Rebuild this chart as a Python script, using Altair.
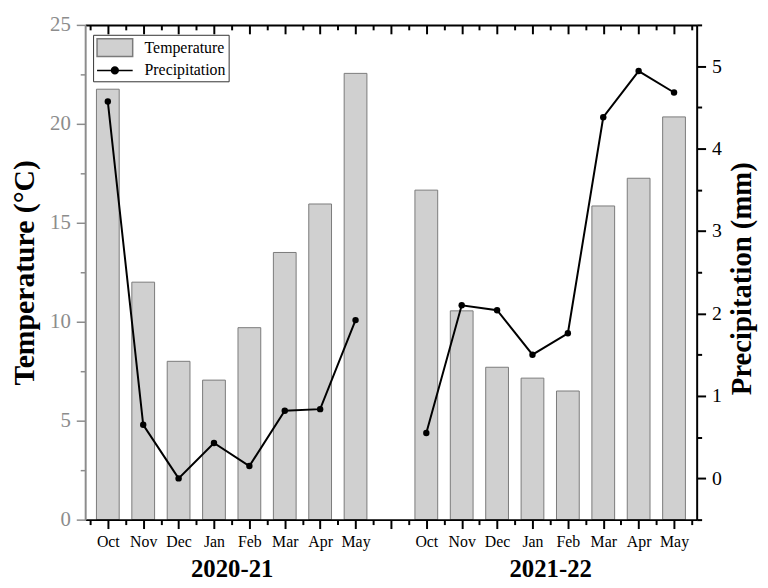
import json
import altair as alt
import pandas as pd

# ---------------- data ----------------
MONTHS = ["Oct", "Nov", "Dec", "Jan", "Feb", "Mar", "Apr", "May"]
SEASONS = ["2020-21", "2021-22"]
TEMP_2020_21 = [21.75, 12.0, 8.0, 7.05, 9.7, 13.5, 15.95, 22.55]
TEMP_2021_22 = [16.65, 10.55, 7.7, 7.15, 6.5, 15.85, 17.25, 20.35]
PRECIP_2020_21 = [4.57, 0.65, 0.0, 0.43, 0.15, 0.82, 0.84, 1.92]
PRECIP_2021_22 = [0.55, 2.10, 2.04, 1.50, 1.76, 4.38, 4.94, 4.68]
SERIES = ["Temperature", "Precipitation"]
TEMP_TICKS = [0, 5, 10, 15, 20, 25]
PRECIP_TICKS = [0, 1, 2, 3, 4, 5]

FONT = "Liberation Serif"
BAR_FILL = "#d0d0d0"
BAR_STROKE = "#7a7a7a"
GRAY = "#8c8c8c"
W, H = 618, 500

rows = []
for s, (temps, precs) in enumerate(zip([TEMP_2020_21, TEMP_2021_22],
                                       [PRECIP_2020_21, PRECIP_2021_22])):
    for m, month in enumerate(MONTHS):
        rows.append({"season": SEASONS[s], "month": month,
                     "pos": s * (len(MONTHS) + 1) + m + 1,
                     "temp": temps[m], "precip": precs[m]})
df = pd.DataFrame(rows)

n_slots = 2 * len(MONTHS) + 1
XDOM = [0.5, n_slots + 0.5]
major_x = list(range(1, n_slots + 1))
minor_x = [0.5 + i for i in range(n_slots + 1)]
slot_labels = MONTHS + [""] + MONTHS
season_centers = df.groupby("season")["pos"].mean().tolist()

month_expr = f"{json.dumps(slot_labels)}[datum.value - 1]"
season_expr = f"datum.value < {len(MONTHS) + 1} ? '{SEASONS[0]}' : '{SEASONS[1]}'"


def xenc(axis):
    return alt.X("pos:Q", scale=alt.Scale(domain=XDOM, nice=False, zero=False), axis=axis)


temp_scale = alt.Scale(domain=[0, 25], nice=False, zero=False)
prec_scale = alt.Scale(domain=[-0.5, 5.5], nice=False, zero=False)

# ---- bars with bottom major axis + left major axis ----
bars = alt.Chart(df).mark_bar(size=23, fill=BAR_FILL, stroke=BAR_STROKE, strokeWidth=1).encode(
    x=xenc(alt.Axis(orient="bottom", values=major_x, labelExpr=month_expr, title=None, grid=False,
                    domainColor="black", domainWidth=2, tickColor="black", tickWidth=2, tickSize=9,
                    labelFont=FONT, labelFontSize=16, labelColor="black", labelPadding=5,
                    labelAngle=0, labelOverlap=False, labelFlush=False, labelBound=False, zindex=1)),
    y=alt.Y("temp:Q", scale=temp_scale,
            axis=alt.Axis(orient="left", values=TEMP_TICKS, grid=False, domainColor=GRAY, domainWidth=2,
                          tickColor=GRAY, tickWidth=1.5, tickSize=9, labelColor=GRAY, labelFont=FONT,
                          labelFontSize=21, labelPadding=6, labelOverlap=False, labelFlush=False,
                          title="Temperature (°C)", titleFont=FONT, titleFontSize=30,
                          titleFontWeight="bold", titleColor="black", titleAngle=270,
                          titleX=-61, titleY=250, titleAlign="center", titleBaseline="middle",
                          zindex=1)),
)

# ---- line with top major axis + right major axis ----
line = alt.Chart(df).mark_line(color="black", strokeWidth=2).encode(
    x=xenc(alt.Axis(orient="bottom", offset=-H, values=major_x, labels=False, title=None, grid=False,
                    domainColor="black", domainWidth=2, tickColor="black", tickWidth=2, tickSize=9,
                    zindex=1)),
    y=alt.Y("precip:Q", scale=prec_scale,
            axis=alt.Axis(orient="right", values=PRECIP_TICKS, grid=False, domainColor="black",
                          domainWidth=2, tickColor="black", tickWidth=2, tickSize=9,
                          labelColor="black", labelFont=FONT, labelFontSize=20, labelPadding=6,
                          labelOverlap=False, labelFlush=False,
                          title="Precipitation (mm)", titleFont=FONT, titleFontSize=29,
                          titleFontWeight="bold", titleColor="black", titleAngle=270,
                          titleX=45, titleY=256, titleAlign="center", titleBaseline="middle",
                          zindex=1)),
    detail="season:N",
)

# ---- points with top minor ticks + right minor ticks ----
points = alt.Chart(df).mark_circle(size=42, color="black", opacity=1).encode(
    x=xenc(alt.Axis(orient="bottom", offset=-H, values=minor_x, labels=False, domain=False,
                    title=None, grid=False, tickColor="black", tickWidth=2, tickSize=5, zindex=1)),
    y=alt.Y("precip:Q", scale=prec_scale,
            axis=alt.Axis(orient="right", values=[-0.5 + i for i in range(13)], labels=False,
                          domain=False, title=None, grid=False, tickColor="black", tickWidth=2,
                          tickSize=5, zindex=1)),
)

# ---- invisible layer carrying bottom minor ticks + left minor ticks ----
minor = alt.Chart(df).mark_point(opacity=0).encode(
    x=xenc(alt.Axis(orient="bottom", values=minor_x, labels=False, domain=False, title=None,
                    grid=False, tickColor="black", tickWidth=2, tickSize=5, zindex=1)),
    y=alt.Y("temp:Q", scale=temp_scale,
            axis=alt.Axis(orient="left", values=[2.5 + 5 * i for i in range(5)], labels=False,
                          domain=False, title=None, grid=False, tickColor=GRAY, tickWidth=1.5,
                          tickSize=5, zindex=1)),
)

# ---- invisible layer carrying the season labels ----
seasons = alt.Chart(df).mark_point(opacity=0).encode(
    x=xenc(alt.Axis(orient="bottom", values=season_centers, labelExpr=season_expr, ticks=False,
                    tickSize=0, domain=False, title=None, grid=False, labelFont=FONT,
                    labelFontSize=25, labelFontWeight="bold", labelColor="black", labelPadding=37,
                    labelOverlap=False, labelFlush=False, labelBound=False)),
    y=alt.Y("temp:Q", axis=None),
)

# ---- legend ----
RECT = "M-2,-1H2V1H-2Z"
LINEDOT = "M-2,0H2M-0.38,0A0.38,0.38,0,1,1,0.38,0A0.38,0.38,0,1,1,-0.38,0Z"
leg = alt.Legend(orient="none", legendX=8, legendY=10, title=None, labelFont=FONT,
                 labelFontSize=16, labelColor="black", symbolSize=324, symbolStrokeWidth=1.5,
                 symbolOffset=9, labelOffset=20, padding=3, strokeColor="#333333",
                 fillColor="white", rowPadding=1, symbolOpacity=1)
legend_df = pd.DataFrame({"series": SERIES})
legend_layer = alt.Chart(legend_df).mark_point(opacity=0, filled=True).encode(
    fill=alt.Fill("series:N", scale=alt.Scale(domain=SERIES, range=[BAR_FILL, "black"]), legend=leg),
    stroke=alt.Stroke("series:N", scale=alt.Scale(domain=SERIES, range=[BAR_STROKE, "black"]), legend=leg),
    shape=alt.Shape("series:N", scale=alt.Scale(domain=SERIES, range=[RECT, LINEDOT]), legend=leg),
)

chart = alt.layer(bars, line, points, minor, seasons, legend_layer).resolve_scale(
    y="independent"
).resolve_axis(
    x="independent", y="independent"
).properties(
    width=W, height=H,
    padding={"left": 78, "top": 14, "right": 64, "bottom": 64},
    autosize=alt.AutoSizeParams(type="none"),
    background="white",
).configure_view(stroke=None)

chart.save("out.html", embed_options={"renderer": "svg", "actions": False})
